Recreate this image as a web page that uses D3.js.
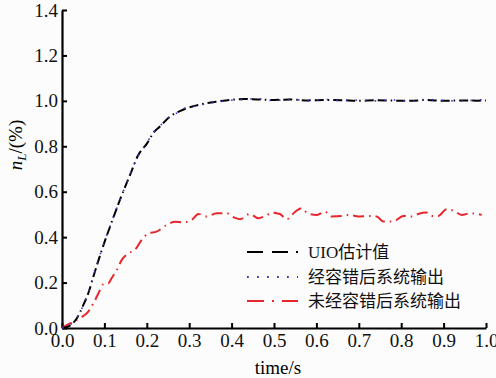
<!DOCTYPE html>
<html>
<head>
<meta charset="utf-8">
<script src="https://cdn.jsdelivr.net/npm/d3@7"></script>
<style>
  html, body { margin: 0; padding: 0; background: #fcfcfc; }
  svg { display: block; }
</style>
</head>
<body>
<script>
const WIDTH = 496;
const HEIGHT = 378;

const padLeft = 62, padRight = 486, padTop = 10, padBottom = 328;

// x tick values / y tick values
const xTicks = [0, 0.1, 0.2, 0.3, 0.4, 0.5, 0.6, 0.7, 0.8, 0.9, 1.0];
const yTicks = [0, 0.2, 0.4, 0.6, 0.8, 1.0, 1.2, 1.4];

const seriesNames = ["UIO估计值", "经容错后系统输出", "未经容错后系统输出"];

// time points shared by the UIO estimate and the fault-tolerant output
const tFast = [0, 0.01, 0.02, 0.035, 0.05, 0.062, 0.074, 0.094, 0.117, 0.141, 0.162, 0.178, 0.201, 0.215, 0.231, 0.255, 0.278, 0.294, 0.318, 0.341, 0.37, 0.4, 0.43, 0.46, 0.5, 0.54, 0.58, 0.62, 0.66, 0.7, 0.74, 0.78, 0.82, 0.86, 0.9, 0.94, 0.98, 1.0];
const uioVals = [0, 0.003, 0.012, 0.043, 0.10, 0.153, 0.226, 0.344, 0.465, 0.585, 0.681, 0.755, 0.814, 0.858, 0.887, 0.931, 0.955, 0.968, 0.98, 0.99, 0.998, 1.005, 1.008, 1.006, 1.004, 1.006, 1.002, 1.004, 1.003, 1.0, 1.003, 1.001, 1.0, 1.004, 1.0, 1.002, 1.001, 1.002];
const ftVals = [0, 0.004, 0.015, 0.045, 0.098, 0.155, 0.23, 0.346, 0.468, 0.583, 0.684, 0.752, 0.818, 0.86, 0.889, 0.933, 0.952, 0.972, 0.978, 0.988, 0.996, 1.003, 1.006, 1.01, 1.001, 1.008, 1.0, 1.006, 1.001, 1.003, 1.0, 1.004, 0.998, 1.006, 1.002, 0.999, 1.004, 1.005];

// output without fault tolerance
const tRed = [0, 0.019, 0.042, 0.062, 0.074, 0.086, 0.097, 0.109, 0.117, 0.129, 0.141, 0.157, 0.172, 0.188, 0.204, 0.223, 0.247, 0.267, 0.286, 0.306, 0.322, 0.341, 0.365, 0.389, 0.404, 0.42, 0.443, 0.463, 0.479, 0.497, 0.514, 0.53, 0.55, 0.565, 0.579, 0.601, 0.62, 0.636, 0.66, 0.679, 0.699, 0.722, 0.742, 0.758, 0.781, 0.805, 0.825, 0.84, 0.86, 0.872, 0.887, 0.907, 0.923, 0.943, 0.962, 0.978, 0.99];
const redVals = [0, 0.02, 0.043, 0.072, 0.109, 0.153, 0.192, 0.196, 0.219, 0.255, 0.30, 0.329, 0.344, 0.388, 0.417, 0.424, 0.454, 0.468, 0.465, 0.476, 0.502, 0.491, 0.505, 0.505, 0.488, 0.479, 0.502, 0.483, 0.493, 0.508, 0.502, 0.479, 0.512, 0.527, 0.505, 0.498, 0.512, 0.491, 0.493, 0.498, 0.491, 0.493, 0.491, 0.469, 0.469, 0.493, 0.491, 0.502, 0.508, 0.493, 0.493, 0.523, 0.517, 0.498, 0.505, 0.502, 0.498];

const serif = "'Liberation Serif', 'Times New Roman', serif";
const cjk = "'Liberation Serif', 'Noto Sans CJK SC', serif";

const svg = d3.select("body").append("svg")
    .attr("width", WIDTH)
    .attr("height", HEIGHT);

const xScale = d3.scaleLinear().domain([0, 1]).range([padLeft, padRight]);
const yScale = d3.scaleLinear().domain([0, 1.4]).range([padBottom, padTop]);

const xAxis = d3.axisBottom(xScale).tickValues(xTicks)
    .tickFormat(d3.format(".1f")).tickSizeInner(-5).tickSizeOuter(0).tickPadding(6);
const yAxis = d3.axisLeft(yScale).tickValues(yTicks)
    .tickFormat(d3.format(".1f")).tickSizeInner(-5).tickSizeOuter(0).tickPadding(4);

const gx = svg.append("g").attr("transform", "translate(0," + padBottom + ")").call(xAxis);
const gy = svg.append("g").attr("transform", "translate(" + padLeft + ",0)").call(yAxis);

[gx, gy].forEach(g => {
    g.select(".domain").attr("stroke", "#000").attr("stroke-width", 2.2);
    g.selectAll(".tick line").attr("stroke", "#000").attr("stroke-width", 2);
    g.selectAll(".tick text").attr("fill", "#111")
        .style("font-family", serif).style("font-size", "19px");
});

// axis titles
svg.append("text")
    .attr("x", 278).attr("y", 374)
    .attr("text-anchor", "middle")
    .style("font-family", serif).style("font-size", "19px")
    .text("time/s");

const ylab = svg.append("text")
    .attr("transform", "translate(22,145) rotate(-90)")
    .attr("text-anchor", "middle")
    .style("font-family", serif).style("font-size", "19px");
ylab.append("tspan").style("font-style", "italic").text("n");
ylab.append("tspan").style("font-style", "italic").style("font-size", "13px").attr("dy", 4).text("L");
ylab.append("tspan").attr("dy", -4).text("/(%)");

const line = d3.line()
    .x(d => xScale(d[0]))
    .y(d => yScale(d[1]))
    .curve(d3.curveMonotoneX);

const zip = (ts, vs) => ts.map((t, i) => [t, vs[i]]);

// red: no fault tolerance
svg.append("path")
    .datum(zip(tRed, redVals))
    .attr("d", line)
    .attr("fill", "none")
    .attr("stroke", "#e8262b")
    .attr("stroke-width", 2)
    .attr("stroke-dasharray", "11,5,1.5,5");

// black: UIO estimate
svg.append("path")
    .datum(zip(tFast, uioVals))
    .attr("d", line)
    .attr("fill", "none")
    .attr("stroke", "#000")
    .attr("stroke-width", 2)
    .attr("stroke-dasharray", "9,4,9,4,1.5,4");

// blue: with fault tolerance
svg.append("path")
    .datum(zip(tFast, ftVals))
    .attr("d", line)
    .attr("fill", "none")
    .attr("stroke", "#3b3bbf")
    .attr("stroke-width", 1.6)
    .attr("stroke-dasharray", "1.6,8");

// legend
const legendRows = [
    { name: seriesNames[0], color: "#000", dash: "16,9,16,8,2,8", w: 2.2, y: 252 },
    { name: seriesNames[1], color: "#3b3bbf", dash: "1.8,8.2", w: 1.8, y: 277 },
    { name: seriesNames[2], color: "#e8262b", dash: "17,8,2,8,17,8", w: 2.2, y: 301 }
];

const leg = svg.append("g");
legendRows.forEach(r => {
    leg.append("line")
        .attr("x1", 247).attr("x2", 298)
        .attr("y1", r.y).attr("y2", r.y)
        .attr("stroke", r.color).attr("stroke-width", r.w)
        .attr("stroke-dasharray", r.dash);
    leg.append("text")
        .attr("x", 308).attr("y", r.y + 6)
        .style("font-family", cjk).style("font-size", "17px")
        .attr("fill", "#111")
        .text(r.name);
});
</script>
</body>
</html>
